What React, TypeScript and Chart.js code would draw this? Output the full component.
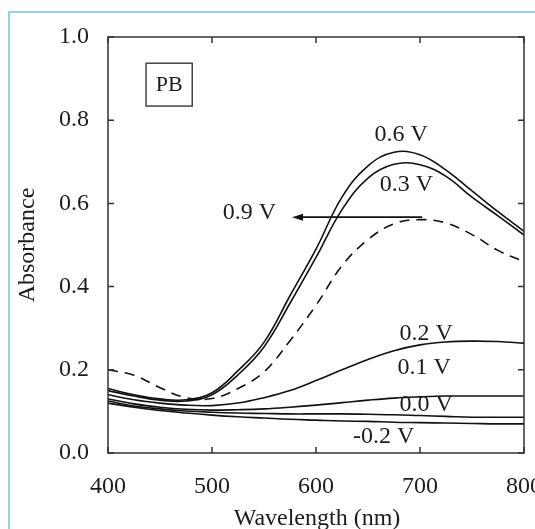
import React, { useEffect, useRef } from "react";
import { Chart, registerables } from "chart.js";

Chart.register(...registerables);

// Wavelength grid (nm)
const wavelengths = [400, 425, 450, 475, 500, 525, 550, 575, 600, 625, 650, 675, 700, 725, 750, 775, 800];

// Absorbance series
const v06 = [0.155, 0.14, 0.13, 0.128, 0.145, 0.198, 0.266, 0.378, 0.49, 0.615, 0.69, 0.723, 0.717, 0.68, 0.63, 0.58, 0.533];
const v03 = [0.15, 0.137, 0.127, 0.125, 0.14, 0.188, 0.255, 0.36, 0.47, 0.585, 0.661, 0.694, 0.693, 0.665, 0.615, 0.57, 0.524];
const v09 = [0.2, 0.187, 0.157, 0.133, 0.131, 0.155, 0.195, 0.27, 0.355, 0.45, 0.513, 0.551, 0.561, 0.553, 0.525, 0.487, 0.46];
const v02 = [0.14, 0.128, 0.12, 0.115, 0.114, 0.12, 0.133, 0.15, 0.174, 0.2, 0.225, 0.246, 0.26, 0.267, 0.269, 0.268, 0.264];
const v01 = [0.13, 0.118, 0.11, 0.105, 0.103, 0.104, 0.106, 0.11, 0.115, 0.121, 0.127, 0.132, 0.135, 0.137, 0.137, 0.137, 0.137];
const v00 = [0.125, 0.113, 0.106, 0.101, 0.098, 0.096, 0.095, 0.094, 0.094, 0.094, 0.093, 0.092, 0.09, 0.088, 0.086, 0.086, 0.086];
const vm02 = [0.12, 0.11, 0.102, 0.096, 0.091, 0.087, 0.084, 0.081, 0.079, 0.077, 0.076, 0.074, 0.073, 0.072, 0.071, 0.07, 0.07];

const xTicks = [400, 500, 600, 700, 800];
const yTicks = [0, 0.2, 0.4, 0.6, 0.8, 1.0];

const seriesLabels = ["0.6 V", "0.3 V", "0.9 V", "0.2 V", "0.1 V", "0.0 V", "-0.2 V"];
const seriesValues = [v06, v03, v09, v02, v01, v00, vm02];

// Label annotations in data coordinates [wavelength, absorbance]
const labelText = ["0.6 V", "0.3 V", "0.9 V", "0.2 V", "0.1 V", "0.0 V", "-0.2 V"];
const labelX = [682, 687, 536, 706, 704, 706, 665];
const labelY = [0.764, 0.644, 0.578, 0.286, 0.204, 0.115, 0.038];

const FONT = "'Liberation Serif', 'Times New Roman', serif";
const INK = "#1c1c1c";

const decorPlugin = {
  id: "decor",
  beforeDraw(chart: any) {
    const ctx = chart.ctx;
    ctx.save();
    ctx.fillStyle = "#fff";
    ctx.fillRect(0, 0, chart.width, chart.height);
    ctx.strokeStyle = "#94d2e4";
    ctx.lineWidth = 2;
    ctx.beginPath();
    ctx.moveTo(9, chart.height);
    ctx.lineTo(9, 12);
    ctx.lineTo(chart.width, 12);
    ctx.stroke();
    ctx.restore();
  },
  afterDraw(chart: any) {
    const ctx = chart.ctx;
    const { left, right, top, bottom } = chart.chartArea;
    const xs = chart.scales.x;
    const ys = chart.scales.y;
    ctx.save();
    // frame
    ctx.strokeStyle = "#333";
    ctx.lineWidth = 1.5;
    ctx.strokeRect(left, top, right - left, bottom - top);
    // inward ticks
    const tl = 6;
    ctx.beginPath();
    xTicks.forEach((t) => {
      const px = xs.getPixelForValue(t);
      ctx.moveTo(px, bottom);
      ctx.lineTo(px, bottom - tl);
      ctx.moveTo(px, top);
      ctx.lineTo(px, top + tl);
    });
    yTicks.forEach((t) => {
      const py = ys.getPixelForValue(t);
      ctx.moveTo(left, py);
      ctx.lineTo(left + tl, py);
      ctx.moveTo(right, py);
      ctx.lineTo(right - tl, py);
    });
    ctx.stroke();

    // series labels
    ctx.fillStyle = INK;
    ctx.font = `24px ${FONT}`;
    ctx.textAlign = "center";
    ctx.textBaseline = "middle";
    labelText.forEach((t, i) => {
      ctx.fillText(t, xs.getPixelForValue(labelX[i]), ys.getPixelForValue(labelY[i]));
    });

    // arrow
    const ay = ys.getPixelForValue(0.567);
    const ax1 = xs.getPixelForValue(702);
    const ax0 = xs.getPixelForValue(577);
    ctx.strokeStyle = "#111";
    ctx.lineWidth = 1.6;
    ctx.beginPath();
    ctx.moveTo(ax1, ay);
    ctx.lineTo(ax0 + 8, ay);
    ctx.stroke();
    ctx.fillStyle = "#111";
    ctx.beginPath();
    ctx.moveTo(ax0, ay);
    ctx.lineTo(ax0 + 11, ay - 3.5);
    ctx.lineTo(ax0 + 11, ay + 3.5);
    ctx.closePath();
    ctx.fill();

    // PB box
    const bx0 = xs.getPixelForValue(436.6);
    const bx1 = xs.getPixelForValue(481);
    const by0 = ys.getPixelForValue(0.937);
    const by1 = ys.getPixelForValue(0.834);
    ctx.strokeStyle = "#444";
    ctx.lineWidth = 1.5;
    ctx.strokeRect(bx0, by0, bx1 - bx0, by1 - by0);
    ctx.fillStyle = INK;
    ctx.font = `22px ${FONT}`;
    ctx.fillText("PB", (bx0 + bx1) / 2, (by0 + by1) / 2 + 1);

    // axis titles
    ctx.font = `24px ${FONT}`;
    ctx.fillText("Wavelength (nm)", (left + right) / 2 + 1, 519);
    ctx.translate(28, (top + bottom) / 2);
    ctx.rotate(-Math.PI / 2);
    ctx.fillText("Absorbance", 0, 0);
    ctx.restore();
  },
};

export default function App() {
  const ref = useRef<HTMLCanvasElement | null>(null);
  useEffect(() => {
    if (!ref.current) return;
    const datasets = seriesValues.map((vals, i) => ({
      label: seriesLabels[i],
      data: wavelengths.map((w, j) => ({ x: w, y: vals[j] })),
      borderColor: "#111",
      borderWidth: 1.6,
      borderDash: seriesLabels[i] === "0.9 V" ? [10, 7] : [],
      pointRadius: 0,
      fill: false,
      tension: 0.4,
    }));
    const tickFont = { family: FONT, size: 24 };
    const chart = new Chart(ref.current, {
      type: "line",
      data: { datasets },
      options: {
        responsive: false,
        animation: false,
        layout: { padding: { left: 8, right: 11, top: 37, bottom: 0 } },
        plugins: { legend: { display: false }, tooltip: { enabled: false } },
        scales: {
          x: {
            type: "linear",
            min: 400,
            max: 800,
            position: "bottom",
            grid: { display: false, drawTicks: false },
            border: { display: false },
            ticks: {
              stepSize: 100,
              padding: 19,
              maxRotation: 0,
              autoSkip: false,
              font: tickFont,
              color: INK,
            },
            afterFit: (s: any) => {
              s.height = 76;
              s.paddingLeft = 0;
              s.paddingRight = 0;
            },
          },
          y: {
            min: 0,
            max: 1,
            grid: { display: false, drawTicks: false },
            border: { display: false },
            ticks: {
              stepSize: 0.2,
              padding: 19,
              font: tickFont,
              color: INK,
              callback: (v: any) => Number(v).toFixed(1),
            },
            afterFit: (s: any) => {
              s.width = 100;
              s.paddingTop = 0;
              s.paddingBottom = 0;
            },
          },
        },
      },
      plugins: [decorPlugin],
    });
    return () => chart.destroy();
  }, []);
  return (
    <div style={{ position: "fixed", left: 0, top: 0, width: 535, height: 529, background: "#fff" }}>
      <canvas ref={ref} width={535} height={529} style={{ display: "block" }} />
    </div>
  );
}
